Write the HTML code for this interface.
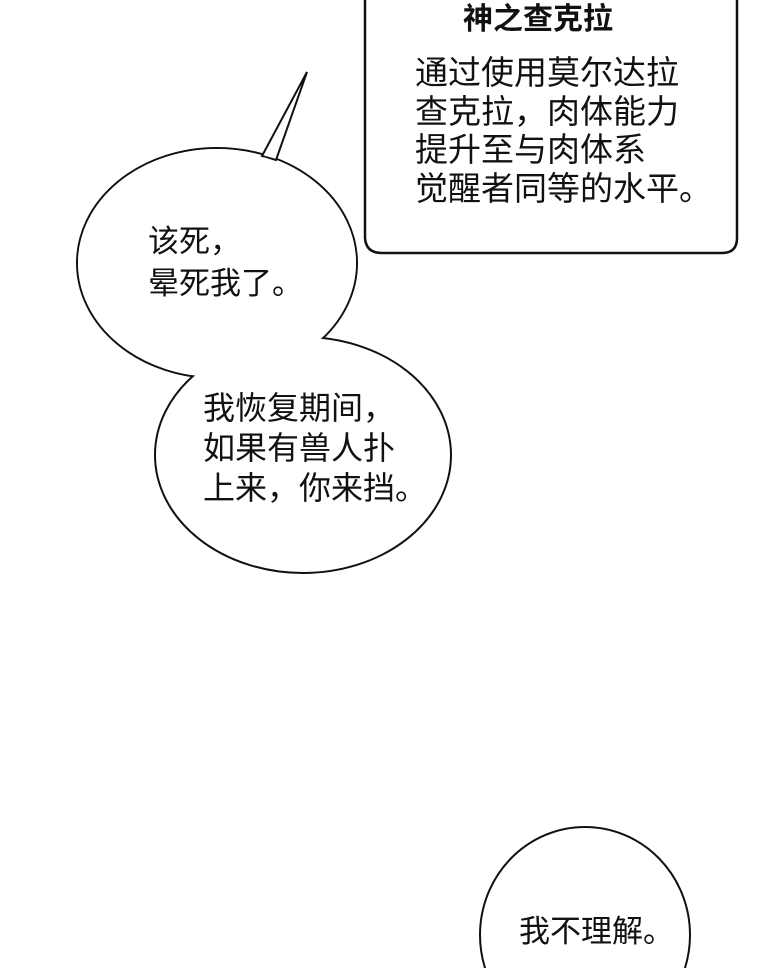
<!DOCTYPE html>
<html><head><meta charset="utf-8"><style>
html,body{margin:0;padding:0;background:#fff;width:760px;height:968px;overflow:hidden;}
body{position:relative;font-family:"Liberation Sans","Noto Sans CJK SC",sans-serif;color:#111;}
.t{position:absolute;white-space:nowrap;}
</style></head><body>
<svg width="760" height="968" style="position:absolute;left:0;top:0;display:block">
<path d="M365 -5 L365 238 Q366 253 382 253 L722 253 Q737 253 737 238 L737 -5" fill="#fff" stroke="#111" stroke-width="2.5"/>
<ellipse cx="217" cy="263" rx="140" ry="115" fill="#fff" stroke="#111" stroke-width="2"/>
<ellipse cx="303" cy="455" rx="148" ry="118" fill="#fff" stroke="#111" stroke-width="2"/>
<ellipse cx="217" cy="263" rx="139" ry="114" fill="#fff"/>
<path d="M262 156 L307 72 L276 160 Z" fill="#fff" stroke="#111" stroke-width="2"/>
<path d="M263 159 L275 163" stroke="#fff" stroke-width="4"/>
<ellipse cx="585" cy="935" rx="105" ry="108" fill="#fff" stroke="#111" stroke-width="2"/>
</svg>
<div class="t" style="left:463px;top:-6px;font-size:30px;font-weight:bold;">神之查克拉</div>
<div class="t" style="left:415px;top:54px;font-size:33px;line-height:38.5px;">通过使用莫尔达拉<br>查克拉，肉体能力<br>提升至与肉体系<br>觉醒者同等的水平。</div>
<div class="t" style="left:148px;top:221px;font-size:31px;line-height:42px;">该死，<br>晕死我了。</div>
<div class="t" style="left:203px;top:388px;font-size:32px;line-height:40px;">我恢复期间，<br>如果有兽人扑<br>上来，你来挡。</div>
<div class="t" style="left:519px;top:912px;font-size:31px;line-height:40px;">我不理解。</div>
</body></html>
